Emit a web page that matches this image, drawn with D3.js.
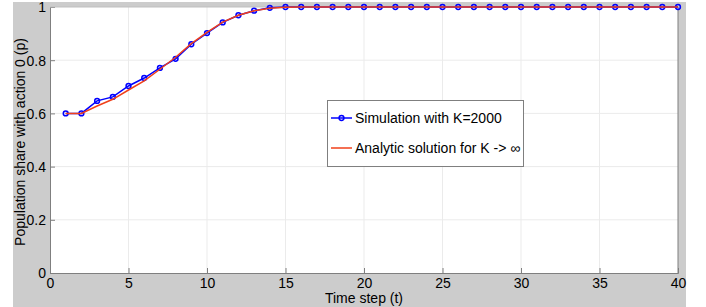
<!DOCTYPE html>
<html>
<head>
<meta charset="utf-8">
<script src="https://cdn.jsdelivr.net/npm/d3@7"></script>
<style>
  body { margin: 0; background: #fff; }
  text { font-family: "Liberation Sans", Arial, sans-serif; fill: #000; }
</style>
</head>
<body>
<svg id="chart" width="706" height="307"></svg>
<script>
// data
var steps = d3.range(1, 41);
var simValues = [0.600, 0.600, 0.647, 0.662, 0.703, 0.733, 0.771, 0.805, 0.860, 0.902,
                 0.942, 0.969, 0.986, 0.997, 1, 1, 1, 1, 1, 1,
                 1, 1, 1, 1, 1, 1, 1, 1, 1, 1,
                 1, 1, 1, 1, 1, 1, 1, 1, 1, 1];
var analyticValues = [0.600, 0.600, 0.628, 0.653, 0.688, 0.722, 0.766, 0.811, 0.862, 0.905,
                      0.943, 0.969, 0.986, 0.995, 0.999, 1, 1, 1, 1, 1,
                      1, 1, 1, 1, 1, 1, 1, 1, 1, 1,
                      1, 1, 1, 1, 1, 1, 1, 1, 1, 1];
var xTicks = [0, 5, 10, 15, 20, 25, 30, 35, 40];
var yTicks = [0, 0.2, 0.4, 0.6, 0.8, 1];
var legendLabels = ["Simulation with K=2000", "Analytic solution for K -> \u221e"];

var svg = d3.select("#chart");

var pLeft = 50, pRight = 678, pTop = 7, pBottom = 273;

// grey figure background
svg.append("rect")
    .attr("x", 13).attr("y", 2)
    .attr("width", 673).attr("height", 305)
    .attr("fill", "#cccccc");

svg.append("rect")
    .attr("x", pLeft).attr("y", pTop)
    .attr("width", pRight - pLeft).attr("height", pBottom - pTop)
    .attr("fill", "#fff");

var x = d3.scaleLinear().domain([0, 40]).range([pLeft, pRight]);
var y = d3.scaleLinear().domain([0, 1]).range([pBottom, pTop]);

// grid
svg.append("g").selectAll("line")
    .data(xTicks.slice(1, -1))
    .enter().append("line")
    .attr("x1", d => x(d)).attr("x2", d => x(d))
    .attr("y1", pTop).attr("y2", pBottom)
    .attr("stroke", "#ebebeb").attr("stroke-width", 1);

svg.append("g").selectAll("line")
    .data(yTicks.slice(1, -1))
    .enter().append("line")
    .attr("x1", pLeft).attr("x2", pRight)
    .attr("y1", d => y(d)).attr("y2", d => y(d))
    .attr("stroke", "#ebebeb").attr("stroke-width", 1);

// axes
var xAxis = d3.axisBottom(x).tickValues(xTicks).tickSize(-5).tickPadding(9)
    .tickFormat(d3.format("d"));
var yAxis = d3.axisLeft(y).tickValues(yTicks).tickSize(-5).tickPadding(4)
    .tickFormat(d => d === 0 || d === 1 ? d3.format("d")(d) : d3.format(".1f")(d));

var gx = svg.append("g").attr("transform", "translate(0," + pBottom + ")").call(xAxis);
var gy = svg.append("g").attr("transform", "translate(" + pLeft + ",0)").call(yAxis);

[gx, gy].forEach(function(g) {
  g.select(".domain").attr("stroke", "#7f7f7f");
  g.selectAll(".tick line").attr("stroke", "#7f7f7f");
  g.selectAll(".tick text").attr("font-size", 14)
    .style("font-family", "'Liberation Sans', Arial, sans-serif");
});
gy.selectAll(".tick text").attr("dy", "0.35em");
gx.selectAll(".tick text").attr("dy", "0.42em");

// box top/right
svg.append("line").attr("x1", pRight).attr("x2", pRight).attr("y1", pTop).attr("y2", pBottom)
    .attr("stroke", "#7f7f7f");
svg.append("line").attr("x1", pLeft).attr("x2", pRight).attr("y1", pTop).attr("y2", pTop)
    .attr("stroke", "#bfbfbf");

// axis labels
svg.append("text")
    .attr("x", (pLeft + pRight) / 2).attr("y", 302.5)
    .attr("text-anchor", "middle").attr("font-size", 14)
    .text("Time step (t)");

svg.append("text")
    .attr("transform", "translate(25," + ((pTop + pBottom) / 2 + 2) + ") rotate(-90)")
    .attr("text-anchor", "middle").attr("font-size", 14)
    .text("Population share with action 0 (p)");

// series
var line = d3.line().x(d => x(d[0])).y(d => y(d[1]));
var simData = steps.map((t, i) => [t, simValues[i]]);
var anaData = steps.map((t, i) => [t, analyticValues[i]]);

svg.append("path").datum(simData)
    .attr("d", line).attr("fill", "none")
    .attr("stroke", "#0000ff").attr("stroke-width", 1.5);

svg.append("g").selectAll("circle")
    .data(simData)
    .enter().append("circle")
    .attr("cx", d => x(d[0])).attr("cy", d => y(d[1]))
    .attr("r", 2.4)
    .attr("fill", "none").attr("stroke", "#0000ff").attr("stroke-width", 1.5);

svg.append("path").datum(anaData)
    .attr("d", line).attr("fill", "none")
    .attr("stroke", "#f0401a").attr("stroke-width", 1.5);

// legend
var lg = svg.append("g");
lg.append("rect")
    .attr("x", 327.5).attr("y", 100.5)
    .attr("width", 196).attr("height", 66)
    .attr("fill", "#fff").attr("stroke", "#7f7f7f");

lg.append("line").attr("x1", 331).attr("x2", 352).attr("y1", 118).attr("y2", 118)
    .attr("stroke", "#0000ff").attr("stroke-width", 1.5);
lg.append("circle").attr("cx", 341.5).attr("cy", 118).attr("r", 2.4)
    .attr("fill", "none").attr("stroke", "#0000ff").attr("stroke-width", 1.5);
lg.append("line").attr("x1", 331).attr("x2", 352).attr("y1", 148).attr("y2", 148)
    .attr("stroke", "#f0401a").attr("stroke-width", 1.5);

lg.selectAll("text.leg")
    .data(legendLabels)
    .enter().append("text")
    .attr("class", "leg")
    .attr("x", 355).attr("y", (d, i) => 123 + i * 30)
    .attr("font-size", 14)
    .text(d => d);
</script>
</body>
</html>
